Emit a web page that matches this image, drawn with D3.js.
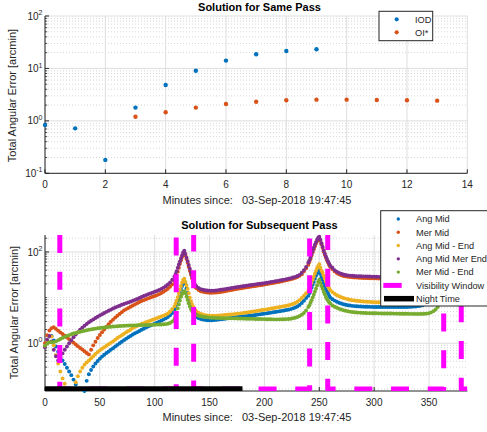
<!DOCTYPE html>
<html><head><meta charset="utf-8">
<script src="https://cdn.jsdelivr.net/npm/d3@7"></script>
<style>
html,body{margin:0;padding:0;background:#fff;}
svg{display:block;font-family:"Liberation Sans",Arial,Helvetica,sans-serif;}
</style></head><body>
<svg id="fig" width="487" height="432"></svg>
<script>
// ---------------- Solution for Same Pass ----------------
const iodMinutes = [0,1,2,3,4,5,6,7,8,9];
const iodError   = [0.835,0.72,0.18,1.79,4.84,9.06,14.1,18.6,21.5,23.2];
const oiMinutes  = [3,4,5,6,7,8,9,10,11,12,13];
const oiError    = [1.2,1.46,1.79,2.1,2.32,2.47,2.54,2.54,2.5,2.47,2.43];
const topXTicks  = [0,2,4,6,8,10,12,14];
const topYTicks  = [0.1,1,10,100];
const topYTickText = ["-1","0","1","2"];

// ---------------- Solution for Subsequent Pass ----------------
// sample times: 2-minute spacing, 1-minute around the two passes
const minutes = [].concat(d3.range(0,118,2), d3.range(118,138,1), d3.range(138,240,2),
                          d3.range(240,261,1), d3.range(262,386,2));

const angMid = [
  .84,1.1,1.4,1.45,1.15,.85,.65,.5,.42,.35,
  .29,.24,.2,.16,.125,.1,.08,.06,.09,.15,
  .21,.26,.31,.36,.41,.46,.51,.56,.61,.66,
  .72,.78,.85,.92,1.0,1.08,1.17,1.26,1.35,1.45,
  1.55,1.65,1.75,1.86,1.97,2.08,2.2,2.32,2.44,2.56,
  2.68,2.82,2.97,3.13,3.3,3.5,3.75,4.1,4.6,
  5.4,6.2,7.2,8.5,10.2,12.5,15,18,21,22.6,20,16,12.6,10,8.2,6.8,5.8,5.0,4.4,4.0,
  3.75,3.55,3.4,3.3,3.25,3.2,3.2,3.2,3.22,3.25,
  3.3,3.35,3.4,3.45,3.5,3.55,3.6,3.65,3.7,3.75,
  3.8,3.85,3.9,3.95,4.0,4.05,4.1,4.17,4.24,4.31,
  4.38,4.45,4.52,4.6,4.68,4.76,4.85,4.94,5.03,5.12,
  5.22,5.33,5.45,5.6,5.8,6.05,6.4,6.9,7.6,8.5,
  9.8,
  11,12.5,14.2,16.5,19,22,26,30,34,38,41,33,28,24.5,21,18,15.5,13.8,12.3,11,10,
  9.2,8.6,8.1,7.7,7.4,7.15,6.95,6.8,6.7,6.6,
  6.52,6.46,6.41,6.37,6.34,6.31,6.29,6.27,6.25,6.24,
  6.23,6.22,6.21,6.2,6.2,6.2,6.2,6.2,6.2,6.2,
  6.2,6.2,6.2,6.22,6.24,6.26,6.3,6.35,6.4,6.5,
  6.6,6.8,7.1,7.5,8.0,8.7,9.6,10.8,12.5,15,
  18.5,23,29,36,43,48,44,36,29,24,
  20.5,18];

const merMid = [
  1.0,1.5,1.9,2.15,2.25,2.06,1.89,1.73,1.59,1.46,
  1.34,1.23,1.12,1.03,.94,.86,.79,.73,.67,.61,
  .57,.72,.9,1.08,1.3,1.52,1.75,2.0,2.3,2.6,
  2.95,3.3,3.65,4.0,4.4,4.8,5.25,5.6,5.9,6.3,
  6.7,7.1,7.55,8.0,8.4,8.8,9.2,9.6,10.0,10.4,
  10.8,11.3,11.9,12.6,13.4,14.4,15.6,17.3,19.5,
  23,26.5,31,37,45,55,66,78,89,97,84,70,58,47,38.5,32,26.5,22.5,19.5,17.3,
  16.0,14.6,13.8,13.4,13.1,12.9,12.8,12.8,12.85,12.95,
  13.1,13.3,13.5,13.8,14.1,14.4,14.7,15.0,15.3,15.6,
  15.9,16.2,16.5,16.8,17.1,17.4,17.7,18.0,18.3,18.6,
  18.9,19.3,19.7,20.1,20.5,20.9,21.3,21.8,22.3,22.8,
  23.3,23.9,24.5,25.2,26.0,27.0,28.3,30.0,32.5,37.5,
  44,
  52,60,70,84,99,115,134,153,172,192,203,175,147,123,102,87,75,65.5,58,51.5,46.5,
  42,37.5,34.5,32.3,30.8,29.8,29.1,28.6,28.2,27.9,
  27.6,27.4,27.2,27.0,26.9,26.8,26.7,26.6,26.5,26.4,
  26.3,26.2,26.1,26.0,26.0,26.0,26.0,26.0,26.0,26.0,
  26.0,26.1,26.2,26.4,26.7,27.0,27.5,28.1,28.9,30,
  31.5,33.5,36,39,43,48,55,64,76,92,
  112,135,160,180,192,195,170,135,105,85,
  72,63];

const angMidEnd = [
  .84,1.15,1.45,1.4,.9,.55,.36,.24,.17,.13,
  .1,.075,.065,.1,.14,.19,.24,.29,.34,.38,
  .42,.47,.52,.58,.64,.7,.76,.82,.88,.95,
  1.02,1.1,1.2,1.3,1.4,1.5,1.62,1.74,1.86,1.98,
  2.15,2.28,2.4,2.52,2.64,2.76,2.88,3.0,3.13,3.26,
  3.4,3.55,3.7,3.86,4.03,4.22,4.5,4.95,5.6,
  6.5,7.4,8.6,10.2,12.3,15,18,21.5,24.5,26,22,18.5,15.5,12.5,10,8.3,7.2,6.4,5.8,5.3,
  5.0,4.65,4.4,4.25,4.12,4.05,4.0,4.0,4.0,4.02,
  4.05,4.08,4.12,4.16,4.2,4.25,4.3,4.35,4.4,4.46,
  4.52,4.58,4.65,4.72,4.8,4.88,4.96,5.05,5.14,5.23,
  5.33,5.43,5.53,5.64,5.75,5.86,5.98,6.1,6.22,6.35,
  6.5,6.65,6.8,7.0,7.25,7.6,8.1,8.8,9.8,11,
  12.5,
  14,15.5,18,21,24.5,28.5,33.5,38.5,44,49,54,45,39,35,30,26,22.5,19.5,17.5,15.8,14.5,
  13.2,12.1,11.3,10.7,10.2,9.8,9.5,9.2,9.0,8.8,
  8.65,8.5,8.4,8.3,8.2,8.15,8.1,8.05,8.0,7.95,
  7.9,7.9,7.9,7.9,7.9,7.9,7.9,7.9,7.9,7.9,
  7.9,7.9,7.95,8.0,8.05,8.1,8.2,8.3,8.45,8.6,
  8.8,9.1,9.5,10,10.7,11.6,12.8,14.3,16.5,19.5,
  23.5,29,36,44,52,57,52,43,35,29,
  25,22];

const angMidMerEnd = [
  .82,1.2,1.45,1.1,.72,.52,.42,.48,.6,.72,
  .85,1.0,1.17,1.35,1.55,1.75,1.97,2.2,2.42,2.65,
  2.88,3.1,3.33,3.57,3.82,4.07,4.33,4.6,4.87,5.15,
  5.45,5.75,6.05,6.35,6.65,6.95,7.25,7.55,7.85,8.15,
  8.5,8.9,9.35,9.8,10.3,10.8,11.3,11.8,12.3,12.85,
  13.4,14.0,14.7,15.5,16.5,17.7,19.3,21.5,24.6,
  29,33,38,45,53,62,73,85,98,107,90,75,63,52,43,35.5,29.5,25,21.5,19,
  17.5,16.2,15.3,14.8,14.5,14.3,14.2,14.2,14.25,14.35,
  14.6,14.8,15.0,15.3,15.6,15.9,16.2,16.5,16.8,17.1,
  17.4,17.7,18.0,18.3,18.6,18.9,19.2,19.5,19.8,20.1,
  20.4,20.8,21.2,21.6,22.0,22.4,22.8,23.3,23.8,24.3,
  24.8,25.4,26.0,26.7,27.5,28.5,29.8,31.5,35,40,
  47,
  58,66,76,90,106,124,144,164,185,204,215,185,155,130,108,92,80,70,62,55,50,
  45,40,37,34.8,33.2,32.1,31.3,30.7,30.3,30.0,
  29.8,29.6,29.4,29.3,29.2,29.1,29.0,28.9,28.8,28.7,
  28.6,28.5,28.4,28.4,28.4,28.4,28.4,28.4,28.4,28.4,
  28.4,28.5,28.6,28.8,29.1,29.5,30,30.7,31.6,32.8,
  34.3,36.3,39,42.5,47,53,61,71,84,101,
  122,148,175,195,208,212,185,148,116,93,
  79,69];

const merMidEnd = [
  .88,.98,1.05,1.05,1.06,1.1,1.17,1.24,1.31,1.38,
  1.45,1.51,1.57,1.63,1.68,1.73,1.78,1.83,1.88,1.93,
  1.97,2.01,2.05,2.09,2.13,2.16,2.19,2.22,2.25,2.28,
  2.3,2.32,2.34,2.36,2.38,2.4,2.42,2.43,2.44,2.45,
  2.46,2.47,2.48,2.49,2.5,2.5,2.51,2.52,2.53,2.54,
  2.55,2.56,2.57,2.58,2.6,2.63,2.68,2.78,3.0,
  3.4,3.9,4.7,5.8,7.1,8.6,10.4,12,13.2,13.8,12.5,10.5,8.9,7.5,6.4,5.6,5.1,4.8,4.55,4.35,
  4.2,4.0,3.9,3.8,3.75,3.7,3.65,3.62,3.6,3.58,
  3.57,3.56,3.55,3.54,3.53,3.52,3.51,3.5,3.5,3.49,
  3.48,3.47,3.46,3.45,3.44,3.43,3.42,3.41,3.4,3.39,
  3.38,3.37,3.36,3.35,3.35,3.34,3.34,3.34,3.34,3.35,
  3.36,3.38,3.41,3.45,3.52,3.62,3.76,3.95,4.2,4.6,
  5.2,
  6.2,6.8,7.7,8.8,10.1,11.6,13.4,15.6,18.5,22,24.6,21,18,15.6,13.5,11.8,10.3,9.3,8.5,7.9,7.4,
  6.7,6.3,6.0,5.7,5.5,5.3,5.15,5.02,4.92,4.84,
  4.78,4.73,4.69,4.65,4.62,4.6,4.58,4.56,4.55,4.54,
  4.53,4.52,4.51,4.5,4.5,4.49,4.48,4.47,4.46,4.45,
  4.45,4.44,4.43,4.42,4.42,4.41,4.41,4.4,4.4,4.4,
  4.4,4.4,4.42,4.46,4.55,4.75,5.05,5.5,6.2,7.2,
  8.7,10.8,13.5,17,20.5,23,20,16,13,11,
  9.5,8.5];

const seriesNames  = ["Ang Mid","Mer Mid","Ang Mid - End","Ang Mid Mer End","Mer Mid - End"];
const seriesValues = [angMid, merMid, angMidEnd, angMidMerEnd, merMidEnd];
const seriesColors = ["#0072BD","#D95319","#EDB120","#7E2F8E","#77AC30"];

// visibility windows [start, end] in minutes, and the night-time span
const visibilityWindows = [[-3.5,13.5],[119.6,135.5],[241.2,257.7],[363.4,379.4]];
const visibleLevel = 1500, hiddenLevel = 0.1;
const nightTime = [0,180];
const nightLevel = 0.1;

const botXTicks = [0,50,100,150,200,250,300,350];
const botYLabeled = [1,100];
const botYLabelText = ["0","2"];

// ---------------- drawing ----------------
const INK = "#262626";
const svg = d3.select("#fig");

function minorDecades(lo, hi) {
  const out = [];
  for (let e = Math.floor(Math.log10(lo)); e <= Math.ceil(Math.log10(hi)); e++)
    for (let k = 1; k <= 9; k++) {
      const v = k * Math.pow(10, e);
      if (v > lo * 1.0001 && v < hi * 0.9999) out.push(v);
    }
  return out;
}

function frame(g, x, y, xTicks, yMajor, yMinor, yLabels, yLabelSup) {
  const [xa, xb] = x.range();
  const [yb, ya] = y.range();
  g.append("g").selectAll("line").data(yMinor).join("line")
    .attr("x1", xa).attr("x2", xb).attr("y1", d => y(d)).attr("y2", d => y(d))
    .attr("stroke", "#c4c4c4").attr("stroke-width", 0.7).attr("stroke-dasharray", "1 2");
  g.append("g").selectAll("line").data(yMajor).join("line")
    .attr("x1", xa).attr("x2", xb).attr("y1", d => y(d)).attr("y2", d => y(d))
    .attr("stroke", "#dedede").attr("stroke-width", 1);
  g.append("g").selectAll("line").data(xTicks).join("line")
    .attr("x1", d => x(d)).attr("x2", d => x(d)).attr("y1", ya).attr("y2", yb)
    .attr("stroke", "#dedede").attr("stroke-width", 1);
  // axes lines
  g.append("line").attr("x1", xa).attr("x2", xa).attr("y1", ya).attr("y2", yb)
    .attr("stroke", INK).attr("stroke-width", 1);
  g.append("line").attr("x1", xa).attr("x2", xb).attr("y1", yb).attr("y2", yb)
    .attr("stroke", INK).attr("stroke-width", 1);
  // ticks (inward)
  g.append("g").selectAll("line").data(xTicks).join("line")
    .attr("x1", d => x(d)).attr("x2", d => x(d)).attr("y1", yb).attr("y2", yb - 4)
    .attr("stroke", INK);
  g.append("g").selectAll("line").data(yLabels).join("line")
    .attr("x1", xa).attr("x2", xa + 4).attr("y1", d => y(d)).attr("y2", d => y(d))
    .attr("stroke", INK);
  g.append("g").selectAll("line").data(yMinor).join("line")
    .attr("x1", xa).attr("x2", xa + 2.2).attr("y1", d => y(d)).attr("y2", d => y(d))
    .attr("stroke", INK).attr("stroke-width", 0.8);
  // tick labels
  g.append("g").selectAll("text").data(xTicks).join("text")
    .attr("x", d => x(d)).attr("y", yb + 15).attr("text-anchor", "middle")
    .attr("font-size", 10).attr("fill", INK).text(d => d);
  const yl = g.append("g").selectAll("text").data(yLabels).join("text")
    .attr("x", xa - 2.5).attr("y", d => y(d) + 3.6).attr("text-anchor", "end")
    .attr("font-size", 10).attr("fill", INK);
  yl.append("tspan").text("10");
  yl.append("tspan").attr("dy", -4.5).attr("font-size", 7).text((d, i) => yLabelSup[i]);
}

function labels(g, x, y, title, titleY) {
  const [yb] = y.range();
  g.append("text").attr("x", 259.5).attr("y", titleY).attr("text-anchor", "middle")
    .attr("font-size", 11).attr("font-weight", "bold").attr("fill", "#000").text(title);
  g.append("text").attr("x", 257).attr("y", yb + 30.3).attr("text-anchor", "middle")
    .attr("font-size", 11).attr("fill", INK).attr("xml:space", "preserve")
    .text("Minutes since:   03-Sep-2018 19:47:45");
}

// ---- top panel ----
const x1 = d3.scaleLinear([0, 14], [45, 467.3]);
const y1 = d3.scaleLog([0.1, 100], [173.3, 16]);
const gTop = svg.append("g");
frame(gTop, x1, y1, topXTicks, topYTicks, minorDecades(0.1, 100).filter(v => !topYTicks.includes(v)),
      topYTicks, topYTickText);
labels(gTop, x1, y1, "Solution for Same Pass", 11);
gTop.append("text").attr("transform", "translate(16,95.5) rotate(-90)")
  .attr("text-anchor", "middle").attr("font-size", 11).attr("fill", INK)
  .text("Total Angular Error [arcmin]");

gTop.append("g").selectAll("circle").data(iodMinutes).join("circle")
  .attr("cx", d => x1(d)).attr("cy", (d, i) => y1(iodError[i])).attr("r", 2.2)
  .attr("fill", seriesColors[0]);
gTop.append("g").selectAll("circle").data(oiMinutes).join("circle")
  .attr("cx", d => x1(d)).attr("cy", (d, i) => y1(oiError[i])).attr("r", 2.2)
  .attr("fill", seriesColors[1]);

// top legend
const lgTop = gTop.append("g");
lgTop.append("rect").attr("x", 379).attr("y", 11.3).attr("width", 53.7).attr("height", 29.4)
  .attr("fill", "#fff").attr("stroke", INK).attr("stroke-width", 1);
[["IOD", seriesColors[0]], ["OI*", seriesColors[1]]].forEach(([t, c], i) => {
  const yy = 19.3 + i * 13;
  lgTop.append("circle").attr("cx", 396.7).attr("cy", yy).attr("r", 2.1).attr("fill", c);
  lgTop.append("text").attr("x", 415).attr("y", yy + 3.3).attr("font-size", 9.2)
    .attr("fill", INK).text(t);
});

// ---- bottom panel ----
const x2 = d3.scaleLinear([0, 385], [45, 467.4]);
const y2 = d3.scaleLog([0.09, 235], [391, 235]);
const gBot = svg.append("g");
const botMinor = minorDecades(0.09, 235).filter(v => !botYLabeled.includes(v));
frame(gBot, x2, y2, botXTicks, botYLabeled, botMinor, botYLabeled, botYLabelText);
labels(gBot, x2, y2, "Solution for Subsequent Pass", 229);
gBot.append("text").attr("transform", "translate(18.4,312.5) rotate(-90)")
  .attr("text-anchor", "middle").attr("font-size", 11).attr("fill", INK)
  .text("Total Angular Error [arcmin]");

svg.append("clipPath").attr("id", "botClip").append("rect")
  .attr("x", 45).attr("y", 235).attr("width", 422.4).attr("height", 156);

const [yLo, yHi] = y2.domain();
seriesValues.forEach((vals, s) => {
  const pts = minutes.map((m, i) => [m, vals[i]])
    .filter(d => d[1] !== undefined && d[1] >= yLo && d[1] <= yHi);
  gBot.append("g").selectAll("circle").data(pts).join("circle")
    .attr("cx", d => x2(d[0])).attr("cy", d => y2(d[1])).attr("r", 1.95)
    .attr("fill", seriesColors[s]);
});

// visibility window as a stepped dashed trace
const visPts = [];
visibilityWindows.forEach(([a, b], i) => {
  if (i === 0) visPts.push([a, visibleLevel]);
  else { visPts.push([a, hiddenLevel]); visPts.push([a, visibleLevel]); }
  visPts.push([b, visibleLevel]); visPts.push([b, hiddenLevel]);
});
visPts.push([x2.domain()[1], hiddenLevel]);
const line2 = d3.line().x(d => x2(d[0])).y(d => y2(d[1]));
gBot.append("path").attr("d", line2(visPts)).attr("clip-path", "url(#botClip)")
  .attr("fill", "none").attr("stroke", "#ff00ff").attr("stroke-width", 5)
  .attr("stroke-dasharray", "18 18.7").attr("stroke-dashoffset", 18)
  .attr("stroke-linejoin", "round");
gBot.append("path").attr("d", line2([[nightTime[0], nightLevel], [nightTime[1], nightLevel]]))
  .attr("clip-path", "url(#botClip)")
  .attr("fill", "none").attr("stroke", "#000").attr("stroke-width", 5.5);

// bottom legend
const lgBot = gBot.append("g");
lgBot.append("rect").attr("x", 380.7).attr("y", 210.7).attr("width", 120).attr("height", 95.3)
  .attr("fill", "#fff").attr("stroke", INK).attr("stroke-width", 1);
seriesNames.forEach((t, i) => {
  const yy = 219 + i * 13.28;
  lgBot.append("circle").attr("cx", 398.3).attr("cy", yy).attr("r", 1.7).attr("fill", seriesColors[i]);
  lgBot.append("text").attr("x", 416).attr("y", yy + 3.3).attr("font-size", 9.2)
    .attr("fill", INK).text(t);
});
const yVis = 219 + 5 * 13.28, yNight = 219 + 6 * 13.28;
lgBot.append("line").attr("x1", 383.3).attr("x2", 401.7).attr("y1", yVis).attr("y2", yVis)
  .attr("stroke", "#ff00ff").attr("stroke-width", 5);
lgBot.append("text").attr("x", 416).attr("y", yVis + 3.3).attr("font-size", 9.2)
  .attr("fill", INK).text("Visibility Window");
lgBot.append("line").attr("x1", 384).attr("x2", 414).attr("y1", yNight).attr("y2", yNight)
  .attr("stroke", "#000").attr("stroke-width", 5.5);
lgBot.append("text").attr("x", 416).attr("y", yNight + 3.3).attr("font-size", 9.2)
  .attr("fill", INK).text("Night Time");
</script>
</body></html>
